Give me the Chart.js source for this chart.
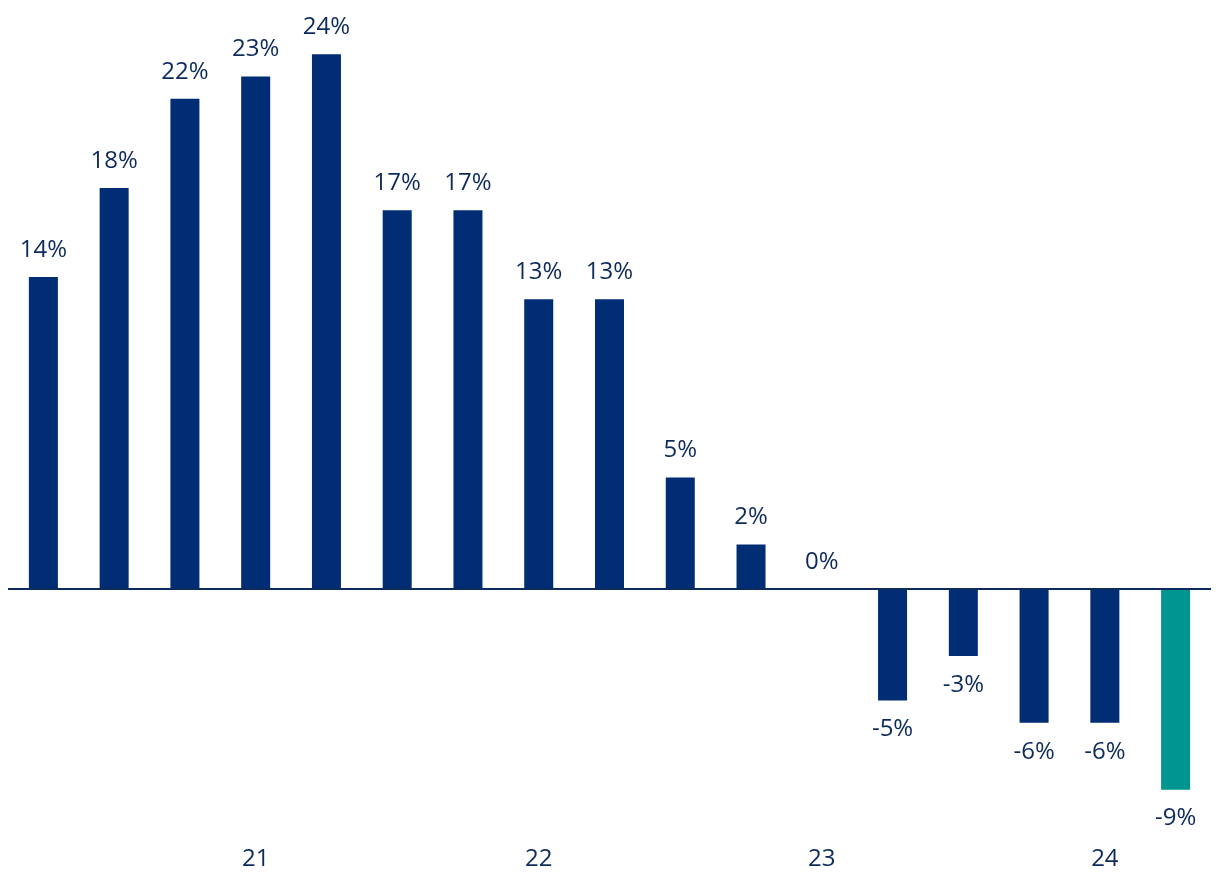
<!DOCTYPE html>
<html>
<head>
<meta charset="utf-8">
<script src="https://cdn.jsdelivr.net/npm/chart.js@4.4.0/dist/chart.umd.min.js"></script>
<style>
  html, body { margin: 0; padding: 0; background: #fff; }
  #wrap { width: 1220px; height: 896px; position: relative; }
</style>
</head>
<body>
<div id="wrap"><canvas id="bars"></canvas></div>
<script>
// Quarterly change, %
var quarters = ['Q2 20','Q3 20','Q4 20','Q1 21','Q2 21','Q3 21','Q4 21','Q1 22','Q2 22','Q3 22','Q4 22','Q1 23','Q2 23','Q3 23','Q4 23','Q1 24','Q2 24'];
var values = [14, 18, 22, 23, 24, 17, 17, 13, 13, 5, 2, 0, -5, -3, -6, -6, -9];
var tickLabels = ['', '', '', '21', '', '', '', '22', '', '', '', '23', '', '', '', '24', ''];

var navy = '#002d74';
var teal = '#00968f';
var textColor = '#0d2a5c';

var barColors = values.map(function (v, i) {
    return i === values.length - 1 ? teal : navy;
});

// value labels above / below each bar
var valueLabels = {
    id: 'valueLabels',
    afterDatasetsDraw: function (chart) {
        var ctx = chart.ctx;
        var meta = chart.getDatasetMeta(0);
        ctx.save();
        ctx.font = '24px "Open Sans"';
        ctx.fillStyle = textColor;
        ctx.textAlign = 'center';
        ctx.textBaseline = 'middle';
        meta.data.forEach(function (bar, i) {
            var v = values[i];
            var y = v >= 0 ? bar.y - 27 : bar.y + 29;
            ctx.fillText(v + '%', bar.x, y);
        });
        ctx.restore();
    }
};

var ctx = document.getElementById('bars');

var chartData = {
    labels: quarters,
    datasets: [{
        data: values,
        backgroundColor: barColors,
        barPercentage: 0.82,
        categoryPercentage: 0.5
    }]
};

var chartOptions = {
    responsive: true,
    maintainAspectRatio: false,
    animation: false,
    layout: { padding: { left: 8, right: 9, top: 0, bottom: 11 } },
    plugins: {
        legend: { display: false },
        tooltip: { enabled: false }
    },
    scales: {
        x: {
            grid: { display: false, drawTicks: false },
            border: { display: false },
            ticks: {
                autoSkip: false,
                maxRotation: 0,
                padding: 11,
                color: textColor,
                font: { family: '"Open Sans"', size: 24 },
                callback: function (val, i) { return tickLabels[i]; }
            }
        },
        y: {
            min: -11,
            max: 26.43,
            border: { display: false },
            ticks: { display: false, stepSize: 1 },
            grid: {
                drawTicks: false,
                color: function (c) { return c.tick.value === 0 ? textColor : 'rgba(0,0,0,0)'; },
                lineWidth: function (c) { return c.tick.value === 0 ? 2 : 0; }
            }
        }
    }
};

new Chart(ctx, {
    type: 'bar',
    data: chartData,
    options: chartOptions,
    plugins: [valueLabels]
});
</script>
</body>
</html>
